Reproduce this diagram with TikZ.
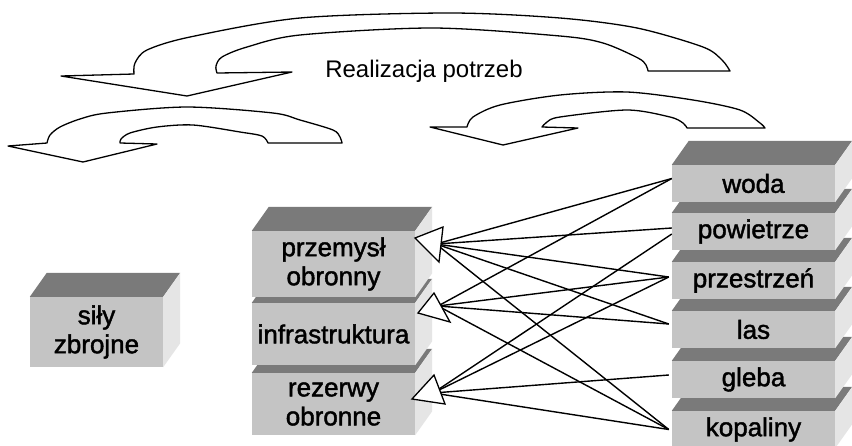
\documentclass[tikz,border=0pt]{standalone}
\usepackage{fontspec}
\setmainfont{Liberation Sans}
\newfontfamily\boxfont[FakeBold=1.6]{Liberation Sans}
\definecolor{frontgray}{gray}{0.77}
\definecolor{topgray}{gray}{0.48}
\definecolor{sidegray}{gray}{0.9}
\newcommand\drawslab[6]{%
  \node[frontface, minimum width=#4pt, minimum height=#5pt] (#1) at (#2,#3) {#6};
  \fill[topface] (#1.north west) -- ++(17,-24) -- ([shift={(17,-24)}]#1.north east) -- (#1.north east) -- cycle;
  \fill[sideface] (#1.north east) -- ([shift={(17,-24)}]#1.north east) -- ([shift={(17,-24)}]#1.south east) -- (#1.south east) -- cycle;
}
\begin{document}
\begin{tikzpicture}[x=1pt,y=-1pt,
  frontface/.style={fill=frontgray, inner sep=0pt, align=center, text=black,
    font=\boxfont\fontsize{26}{29}\selectfont},
  topface/.style={fill=topgray},
  sideface/.style={fill=sidegray},
  band/.style={draw=black, line width=1.3pt, line join=round, fill=white},
  conn/.style={draw=black, line width=1.4pt},
  head/.style={draw=black, line width=1.3pt, fill=white, line join=miter},
  title/.style={font=\fontsize{24}{28}\selectfont, inner sep=0pt}]
\useasboundingbox (0,0) rectangle (852,445);
\fill[white] (0,0) rectangle (852,445);

% curved arrows
\draw[band] (61,76) -- plot[smooth] coordinates {(134,74) (135,63) (147,50) (190,37) (300,18) (450,13) (560,18) (637,28) (703,47) (722,60) (730,71)}
  -- plot[smooth] coordinates {(648,71) (646,65) (638,58) (603,43) (560,36) (433,28) (300,35) (247,47) (222,57) (216,66) (217,73)}
  -- (292,72) -- (187,96) -- cycle;
\draw[band] (8,146) -- plot[smooth] coordinates {(47,143) (50,135) (60,127) (80,119) (107,113) (187,107) (273,113) (300,120) (333,130) (340,137) (342,143)}
  -- plot[smooth] coordinates {(268,143) (262,136) (240,132) (193,125) (157,127) (130,133) (121,139) (120,143)}
  -- (157,144) -- (83,162) -- cycle;
\draw[band] (430,127) -- (503,145) -- (578,128)
  -- plot[smooth] coordinates {(542,127) (547,122) (560,117) (627,110) (670,117) (683,123) (687,128)}
  -- plot[smooth] coordinates {(765,128) (760,123) (740,110) (693,100) (627,92) (560,95) (500,105) (473,117) (467,127)}
  -- cycle;
\node[title] (real) at (424,71) {Realizacja potrzeb};

% boxes
\drawslab{sily}{96.5}{332}{133}{70}{siły\\zbrojne}
\drawslab{rez}{333.5}{404}{163}{62}{rezerwy\\obronne}
\drawslab{infra}{333.5}{334}{163}{62}{infrastruktura}
\drawslab{przem}{333.5}{264}{163}{66}{przemysł\\obronny}

\drawslab{kop}{753.5}{429.5}{163}{37}{kopaliny}
\drawslab{gleba}{753.5}{379.5}{163}{37}{gleba}
\drawslab{las}{753.5}{329.5}{163}{37}{las}
\drawslab{przes}{753.5}{280.5}{163}{37}{przestrzeń}
\drawslab{pow}{753.5}{231.5}{163}{37}{powietrze}
\drawslab{woda}{753.5}{183.5}{163}{37}{woda}

% connector ends
\coordinate (wodaIn) at ([yshift=5pt]woda.west);
\coordinate (powInA) at ([yshift=3.5pt]pow.west);
\coordinate (powInC) at ([yshift=-2.5pt]pow.west);
\coordinate (przesIn) at ([xshift=-3pt,yshift=3.5pt]przes.west);
\coordinate (lasIn) at ([xshift=-3pt,yshift=5.5pt]las.west);
\coordinate (glebaIn) at ([xshift=-3pt,yshift=4.5pt]gleba.west);
\coordinate (kopIn) at ([xshift=-3pt]kop.west);

\coordinate (hA) at (436,244);
\coordinate (hB) at (438,306);
\coordinate (hC) at (433,393);

\foreach \t in {wodaIn,powInA,przesIn,lasIn,kopIn} \draw[conn] (hA) -- (\t);
\foreach \t in {wodaIn,przesIn,lasIn,kopIn} \draw[conn] (hB) -- (\t);
\foreach \t in {powInC,przesIn,glebaIn,kopIn} \draw[conn] (hC) -- (\t);

\draw[head] (415,238) -- (443,227) -- (439,262) -- cycle;
\draw[head] (418,313) -- (434,293) -- (450,322) -- cycle;
\draw[head] (412,399) -- (434,375) -- (445,404) -- cycle;
\end{tikzpicture}
\end{document}
